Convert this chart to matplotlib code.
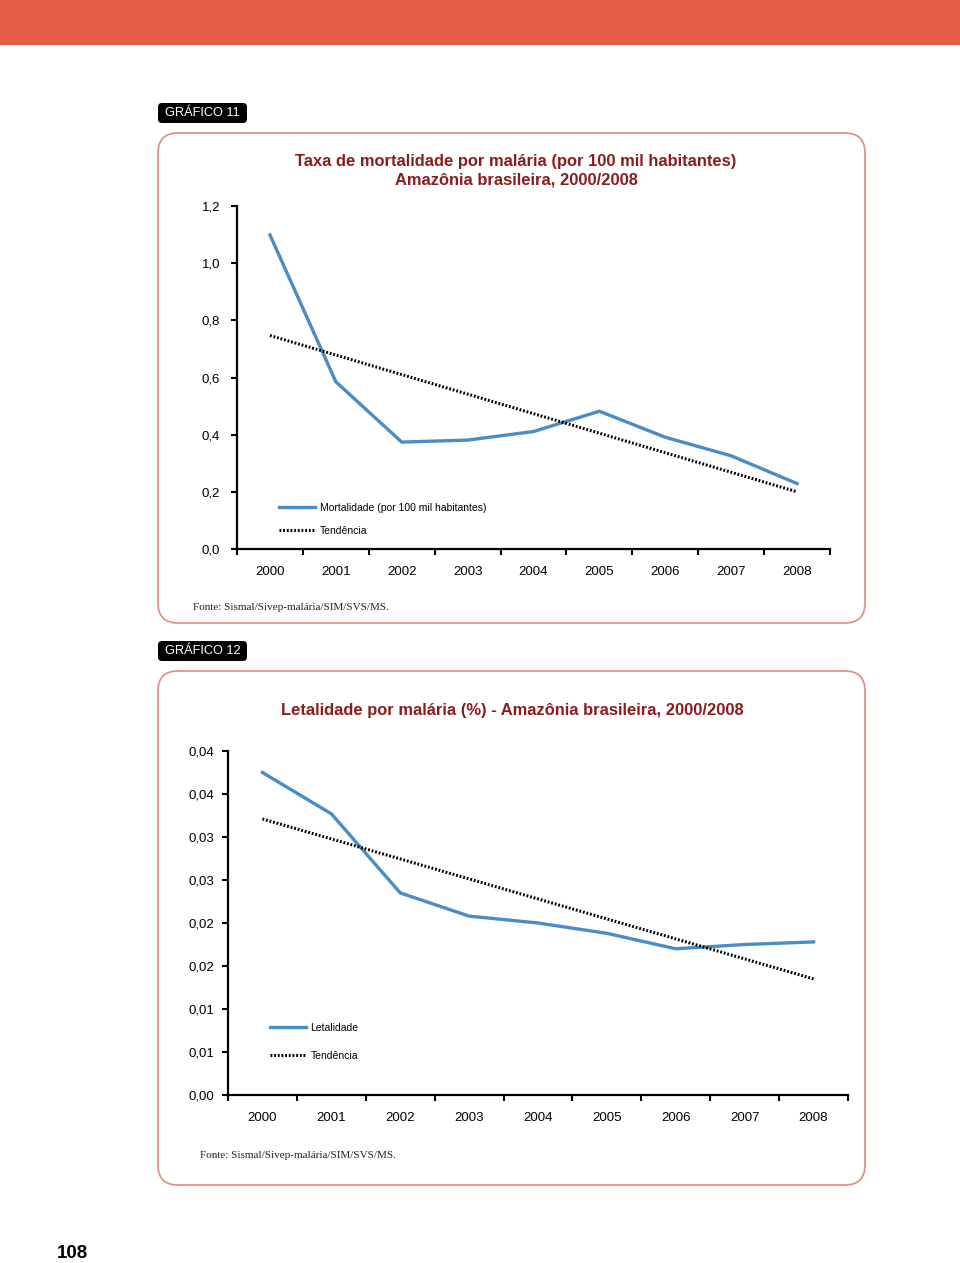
import numpy as np
import matplotlib
matplotlib.use("Agg")
import matplotlib.pyplot as plt
from matplotlib.patches import FancyBboxPatch, Rectangle

plt.rcParams['font.family'] = ['Liberation Sans', 'DejaVu Sans']

# data
anos = ['2000', '2001', '2002', '2003', '2004', '2005', '2006', '2007', '2008']
mortalidade = [1.099, 0.585, 0.374, 0.381, 0.411, 0.482, 0.391, 0.326, 0.229]
tend_mort = [0.747, 0.200]          # trendline at 2000 and 2008
letalidade = [0.0375, 0.0327, 0.0235, 0.0208, 0.0200, 0.0188, 0.0170, 0.0175, 0.0178]
tend_letal = [0.0321, 0.0135]       # trendline at 2000 and 2008

yticks_mort = [0.0, 0.2, 0.4, 0.6, 0.8, 1.0, 1.2]
ylabels_mort = ['0,0', '0,2', '0,4', '0,6', '0,8', '1,0', '1,2']
yticks_letal = [0.0, 0.005, 0.01, 0.015, 0.02, 0.025, 0.03, 0.035, 0.04]
ylabels_letal = ['0,00', '0,01', '0,01', '0,02', '0,02', '0,03', '0,03', '0,04', '0,04']

titulo1 = 'Taxa de mortalidade por malária (por 100 mil habitantes)\nAmazônia brasileira, 2000/2008'
titulo2 = 'Letalidade por malária (%) - Amazônia brasileira, 2000/2008'
fonte = 'Fonte: Sismal/Sivep-malária/SIM/SVS/MS.'

AZUL = '#4A8CC5'
VERMELHO = '#8B1C1C'
BORDA = '#DE9486'

W, H = 960, 1263
fig = plt.figure(figsize=(W / 100, H / 100), dpi=100)

# page background in pixel coordinates
bg = fig.add_axes([0, 0, 1, 1], zorder=0)
bg.set_xlim(0, W)
bg.set_ylim(H, 0)
bg.axis('off')

bg.add_patch(Rectangle((0, 0), W, 45, color='#E65B43', lw=0))

for (y0, h, ylab, txt) in [(133, 490, 103, 'GRÁFICO 11'), (671, 514, 641, 'GRÁFICO 12')]:
    bg.add_patch(FancyBboxPatch((158, y0), 707, h, boxstyle='round,pad=0,rounding_size=20',
                                fc='white', ec=BORDA, lw=1.3))
    bg.add_patch(FancyBboxPatch((158, ylab), 89, 20, boxstyle='round,pad=0,rounding_size=4',
                                fc='black', ec='none'))
    bg.text(202.5, ylab + 10.5, txt, color='white', ha='center', va='center', fontsize=9.2)

bg.text(516, 171, titulo1, color=VERMELHO, ha='center', va='center', fontsize=11.9,
        weight='bold', linespacing=1.3)
bg.text(512, 710, titulo2, color=VERMELHO, ha='center', va='center', fontsize=11.9,
        weight='bold')

bg.text(193, 607, fonte, ha='left', va='center', fontsize=8, family='Liberation Serif', color='#222222')
bg.text(200, 1155, fonte, ha='left', va='center', fontsize=8, family='Liberation Serif', color='#222222')

bg.text(72, 1253, '108', ha='center', va='center', fontsize=13.5, weight='bold')


def painel(rect, valores, tendencia, yticks, ylabels, ymax, rotulo, leg_pos, leg_gap, ypad):
    ax = fig.add_axes(rect, zorder=2)
    ax.patch.set_alpha(0)
    x = np.arange(len(anos))
    l1, = ax.plot(x, valores, color=AZUL, lw=2.4, solid_joinstyle='miter')
    l2, = ax.plot([x[0], x[-1]], tendencia, color='black', lw=2.2,
                  linestyle=(0, (0.6, 0.6)))
    ax.set_xlim(-0.5, len(anos) - 0.5)
    ax.set_ylim(0, ymax)
    ax.set_xticks(x)
    ax.set_xticklabels(anos)
    ax.set_xticks(np.arange(len(anos) + 1) - 0.5, minor=True)
    ax.tick_params(axis='x', which='major', length=0, pad=12.5, labelsize=9.5)
    ax.tick_params(axis='x', which='minor', length=4, width=1.5, direction='out')
    ax.set_yticks(yticks)
    ax.set_yticklabels(ylabels)
    ax.tick_params(axis='y', length=4, width=1.5, direction='out', pad=ypad, labelsize=9.5)
    for s in ['top', 'right']:
        ax.spines[s].set_visible(False)
    for s in ['left', 'bottom']:
        ax.spines[s].set_linewidth(1.6)
    ax.legend([l1, l2], [rotulo, 'Tendência'], loc='center left', bbox_to_anchor=leg_pos,
              frameon=False, fontsize=7.5, handlelength=3.5, handletextpad=0.4,
              borderpad=0, borderaxespad=0, labelspacing=leg_gap)
    return ax


painel([237 / W, 1 - 549 / H, 593 / W, 343 / H], mortalidade, tend_mort,
       yticks_mort, ylabels_mort, 1.2, 'Mortalidade (por 100 mil habitantes)',
       (0.0708, 0.0860), 1.25, 8)
painel([228 / W, 1 - 1095 / H, 620 / W, 344 / H], letalidade, tend_letal,
       yticks_letal, ylabels_letal, 0.04, 'Letalidade',
       (0.0677, 0.1545), 1.75, 6)

fig.savefig('out.png', dpi=100)
